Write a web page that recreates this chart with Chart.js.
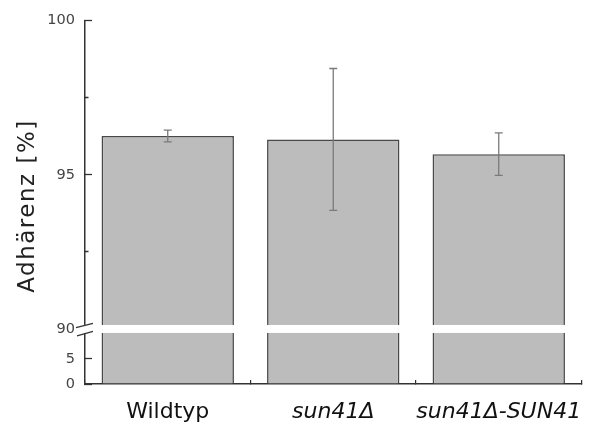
<!DOCTYPE html>
<html lang="de">
<head>
<meta charset="UTF-8">
<title>Adhärenz</title>
<script src="https://cdn.jsdelivr.net/npm/chart.js@4.4.2/dist/chart.umd.min.js"></script>
<style>
  html, body { margin: 0; padding: 0; background: #fff; }
  #wrap { width: 591px; height: 429px; }
</style>
</head>
<body>
<div id="wrap"><canvas id="adh"></canvas></div>
<script>
  // values
  const categories = ['Wildtyp', 'sun41Δ', 'sun41Δ-SUN41'];
  const adhesion = [96.26, 96.15, 95.67];
  const errors = [0.19, 2.3, 0.69];
  const upperTicks = [90, 92.5, 95, 97.5, 100];
  const lowerTicks = [0, 2.5, 5, 7.5];
  const labelled = [0, 5, 90, 95, 100];

  const lowerMax = 11;
  const FONT = "'DejaVu Sans', sans-serif";
  const AXIS = '#333';

  // white break band across the bars, "//" on the axis, error bars
  const breakPlugin = {
    id: 'breakAndErrors',
    afterDatasetsDraw(chart) {
      const ctx = chart.ctx;
      const x = chart.scales.x, yTop = chart.scales.yTop, yBot = chart.scales.yBot;
      const area = chart.chartArea;
      const bandTop = yTop.bottom - 4;
      const bandBot = yBot.top + 4;
      ctx.save();
      ctx.fillStyle = '#fff';
      if (bandBot > bandTop) {
        ctx.fillRect(area.left - 3, bandTop, area.right - area.left + 10, bandBot - bandTop);
      }

      ctx.strokeStyle = AXIS;
      ctx.lineWidth = 1.3;
      ctx.beginPath();
      ctx.moveTo(area.left - 9, bandTop + 2.7);
      ctx.lineTo(area.left + 8, bandTop - 1.7);
      ctx.moveTo(area.left - 8, bandBot + 2.8);
      ctx.lineTo(area.left + 8, bandBot - 1.5);
      ctx.stroke();

      ctx.strokeStyle = '#7a7a7a';
      ctx.lineWidth = 1.3;
      adhesion.forEach((v, i) => {
        const cx = x.getPixelForValue(i);
        const hi = yTop.getPixelForValue(v + errors[i]);
        const lo = yTop.getPixelForValue(v - errors[i]);
        ctx.beginPath();
        ctx.moveTo(cx, hi); ctx.lineTo(cx, lo);
        ctx.moveTo(cx - 4, hi); ctx.lineTo(cx + 4, hi);
        ctx.moveTo(cx - 4, lo); ctx.lineTo(cx + 4, lo);
        ctx.stroke();
      });
      ctx.restore();
    },
    afterDraw(chart) {
      const ctx = chart.ctx;
      const hasSpacing = 'letterSpacing' in ctx;
      ctx.save();
      ctx.translate(28, 206);
      ctx.rotate(-Math.PI / 2);
      ctx.font = "23px " + FONT;
      if (hasSpacing) ctx.letterSpacing = '1.5px';
      ctx.fillStyle = '#222';
      ctx.textAlign = 'center';
      ctx.textBaseline = 'middle';
      ctx.fillText('Adhärenz [%]', 0, 0);
      if (hasSpacing) ctx.letterSpacing = '0px';
      ctx.restore();
    }
  };

  const yCommon = {
    type: 'linear',
    position: 'left',
    stack: 'y',
    grid: {
      drawOnChartArea: false,
      tickLength: -7,
      color: AXIS,
      tickWidth: 1.3,
      tickBorderDash: c => labelled.includes(c.tick.value) ? [] : [0, 3.5, 5, 20]
    },
    border: { color: AXIS, width: 1.5 },
    ticks: {
      padding: 17,
      color: '#444',
      font: { family: FONT, size: 14.5 },
      callback: v => labelled.includes(v) ? String(v) : ''
    },
    afterFit: s => { s.width = 85; s.paddingTop = 0; s.paddingBottom = 0; }
  };

  new Chart(document.getElementById('adh'), {
    type: 'bar',
    data: {
      labels: categories,
      datasets: [
        {
          data: adhesion,
          yAxisID: 'yTop',
          grouped: false,
          backgroundColor: '#bcbcbc',
          borderColor: '#484848',
          borderWidth: 1.6,
          barPercentage: 0.8,
          categoryPercentage: 1.0
        },
        {
          data: adhesion.map(v => Math.min(v, lowerMax)),
          yAxisID: 'yBot',
          grouped: false,
          backgroundColor: '#bcbcbc',
          borderColor: '#484848',
          borderWidth: 1.6,
          barPercentage: 0.8,
          categoryPercentage: 1.0
        }
      ]
    },
    options: {
      responsive: true,
      maintainAspectRatio: false,
      animation: false,
      layout: { padding: { top: 20.7, right: 9.5, bottom: 0, left: 0 } },
      plugins: { legend: { display: false }, tooltip: { enabled: false } },
      scales: {
        x: {
          grid: { offset: true, drawOnChartArea: false, tickLength: -4, color: AXIS, lineWidth: 1.2 },
          border: { color: AXIS, width: 1.5 },
          ticks: {
            padding: 19,
            color: '#111',
            autoSkip: false,
            maxRotation: 0,
            minRotation: 0,
            font: c => ({ family: FONT, size: 22, style: c.index > 0 ? 'italic' : 'normal' })
          },
          afterFit: s => { s.height = 45; s.paddingLeft = 0; s.paddingRight = 0; }
        },
        yBot: Object.assign({}, yCommon, {
          stackWeight: 55,
          min: 0,
          max: lowerMax,
          afterBuildTicks: s => { s.ticks = lowerTicks.map(v => ({ value: v })); }
        }),
        yTop: Object.assign({}, yCommon, {
          stackWeight: 308,
          min: 90,
          max: 100,
          afterBuildTicks: s => { s.ticks = upperTicks.map(v => ({ value: v })); }
        })
      }
    },
    plugins: [breakPlugin]
  });
</script>
</body>
</html>
